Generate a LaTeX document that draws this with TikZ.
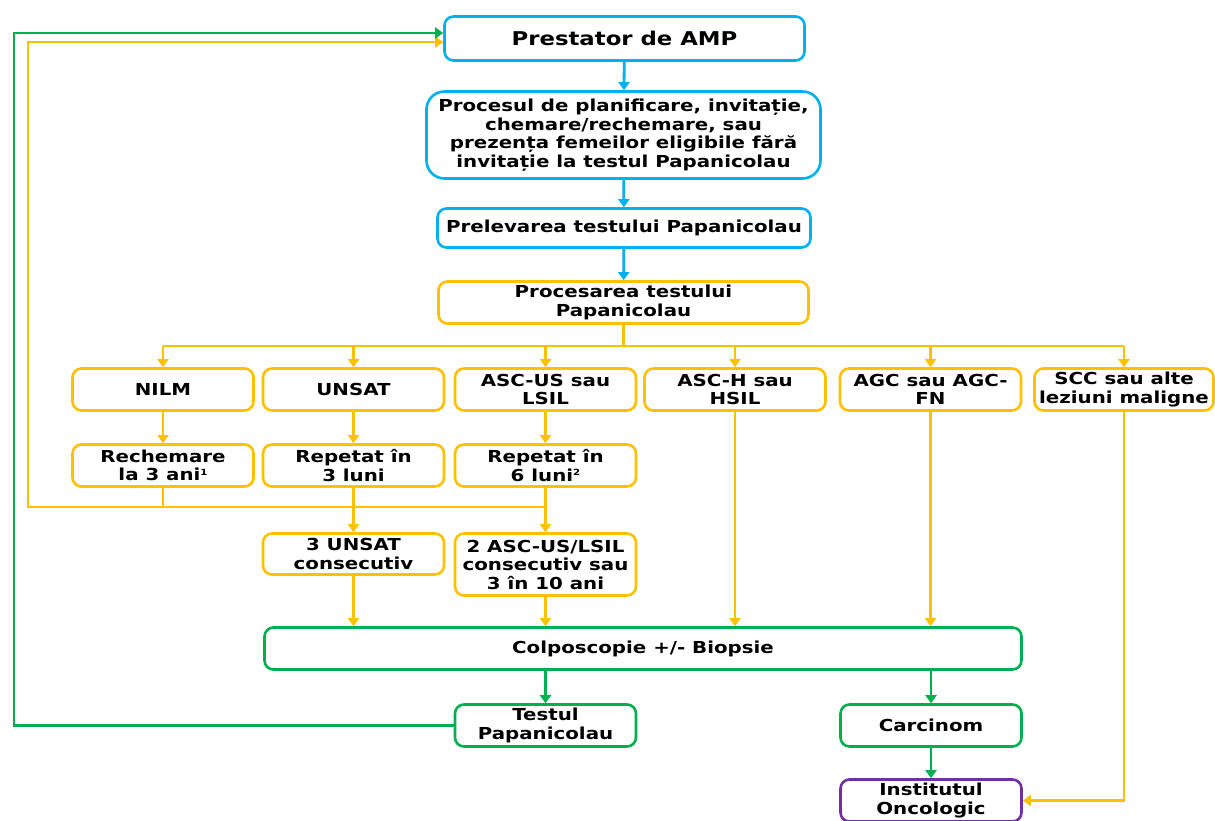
\documentclass[tikz,border=0pt]{standalone}
\usepackage{fontspec}
\setmainfont{DejaVu Sans}[FakeStretch=1.2]
\usetikzlibrary{arrows.meta}
\definecolor{cblue}{RGB}{0,176,240}
\definecolor{cyel}{RGB}{255,192,0}
\definecolor{cgreen}{RGB}{0,176,80}
\definecolor{cpurp}{RGB}{112,48,160}
\newcommand{\supnum}[1]{\raisebox{5.5pt}{\fontsize{8.5}{8.5}\selectfont #1}}
\tikzset{
  box/.style={draw, line width=2.6pt, rounded corners=9pt, align=center, inner sep=0pt,
    font=\fontsize{16.5}{18.5}\selectfont\bfseries, text=black, fill=white},
  bbox/.style={box, draw=cblue},
  ybox/.style={box, draw=cyel},
  gbox/.style={box, draw=cgreen},
  pbox/.style={box, draw=cpurp},
  tip/.style={-{Triangle[width=11pt,length=8pt]}},
  ln/.style={line width=2.8pt},
  barrow/.style={ln, tip, color=cblue},
  yarrow/.style={ln, tip, color=cyel},
  yline/.style={ln, color=cyel},
  garrow/.style={ln, tip, color=cgreen},
}
\begin{document}
\begin{tikzpicture}[x=1pt,y=-1pt]
\useasboundingbox (0,0) rectangle (1215,821);
% nodes
\node[bbox, minimum width=360pt, minimum height=44pt, font=\fontsize{19}{21}\selectfont\bfseries] (prest) at (624.5,38.5) {Prestator de AMP};
\node[bbox, rounded corners=18pt, minimum width=394pt, minimum height=87pt] (proc) at (623.5,135) {Procesul de planificare, invitație,\\chemare/rechemare, sau\\prezența femeilor eligibile fără\\invitație la testul Papanicolau};
\node[bbox, minimum width=373pt, minimum height=39pt] (prel) at (624,228) {Prelevarea testului Papanicolau};
\node[ybox, minimum width=370pt, minimum height=42pt] (procs) at (623.5,302.5) {Procesarea testului\\Papanicolau};
% row 1
\node[ybox, minimum width=181pt, minimum height=42pt] (nilm) at (163,389.5) {NILM};
\node[ybox, minimum width=181pt, minimum height=42pt] (unsat) at (353.5,389.5) {UNSAT};
\node[ybox, minimum width=181pt, minimum height=42pt] (ascus) at (545.5,389.5) {ASC-US sau\\LSIL};
\node[ybox, minimum width=181pt, minimum height=42pt] (asch) at (735,389.5) {ASC-H sau\\HSIL};
\node[ybox, minimum width=181pt, minimum height=42pt] (agc) at (930.5,389.5) {AGC sau AGC-\\FN};
\node[ybox, minimum width=179pt, minimum height=42pt] (scc) at (1124,389.5) {SCC sau alte\\leziuni maligne};
% row 2
\node[ybox, minimum width=181pt, minimum height=42pt] (rech) at (163,465.5) {Rechemare\\la 3 ani\supnum{1}};
\node[ybox, minimum width=181pt, minimum height=42pt] (rep3) at (353.5,465.5) {Repetat în\\3 luni};
\node[ybox, minimum width=181pt, minimum height=42pt] (rep6) at (545.5,465.5) {Repetat în\\6 luni\supnum{2}};
% row 3
\node[ybox, minimum width=181pt, minimum height=41pt] (uns3) at (353.5,554) {3 UNSAT\\consecutiv};
\node[ybox, minimum width=181pt, minimum height=62pt] (asc2) at (545.5,564.5) {2 ASC-US/LSIL\\consecutiv sau\\3 în 10 ani};
% bottom
\node[gbox, minimum width=757pt, minimum height=42pt] (colp) at (643,648.5) {Colposcopie +/- Biopsie};
\node[gbox, minimum width=181pt, minimum height=42pt] (test) at (545.5,725.5) {Testul\\Papanicolau};
\node[gbox, minimum width=181pt, minimum height=42pt] (carc) at (931,725.5) {Carcinom};
\node[pbox, minimum width=181pt, minimum height=42pt] (inst) at (931,800.5) {Institutul\\Oncologic};
% coordinates
\coordinate (bar) at (0,346);
\coordinate (ret) at (0,507);
\coordinate (yl) at (28,507);
\coordinate (yr) at (545.5,507);
\coordinate (gl) at (14,725.5);
% blue arrows
\draw[barrow] (prest) -- (proc);
\draw[barrow] (proc) -- (prel);
\draw[barrow] (prel) -- (procs);
% branch bar
\draw[yline] (procs.south) -- (procs.south |- bar);
\draw[yline] (nilm.north |- bar) -- (scc.north |- bar);
\foreach \n in {nilm,unsat,ascus,asch,agc,scc}
  \draw[yarrow] (\n.north |- bar) -- (\n.north);
% column arrows
\draw[yarrow] (nilm) -- (rech);
\draw[yarrow] (unsat) -- (rep3);
\draw[yarrow] (ascus) -- (rep6);
\draw[yarrow] (rep3) -- (uns3);
\draw[yarrow] (rep6) -- (asc2);
\draw[yarrow] (uns3.south) -- (uns3.south |- colp.north);
\draw[yarrow] (asc2.south) -- (asc2.south |- colp.north);
\draw[yarrow] (asch.south) -- (asch.south |- colp.north);
\draw[yarrow] (agc.south) -- (agc.south |- colp.north);
\draw[yarrow] (scc.south) |- (inst.east);
% return loop
\draw[yline] (rech.south) -- (rech.south |- ret);
\draw[yarrow] (yr) -- (yl) |- ([yshift=-3.5pt]prest.west);
% green
\draw[garrow] (colp.south -| test.north) -- (test.north);
\draw[garrow] (colp.south -| carc.north) -- (carc.north);
\draw[garrow] (carc) -- (inst);
\draw[garrow] (test.west) -- (gl) |- ([yshift=5.5pt]prest.west);
\end{tikzpicture}
\end{document}
